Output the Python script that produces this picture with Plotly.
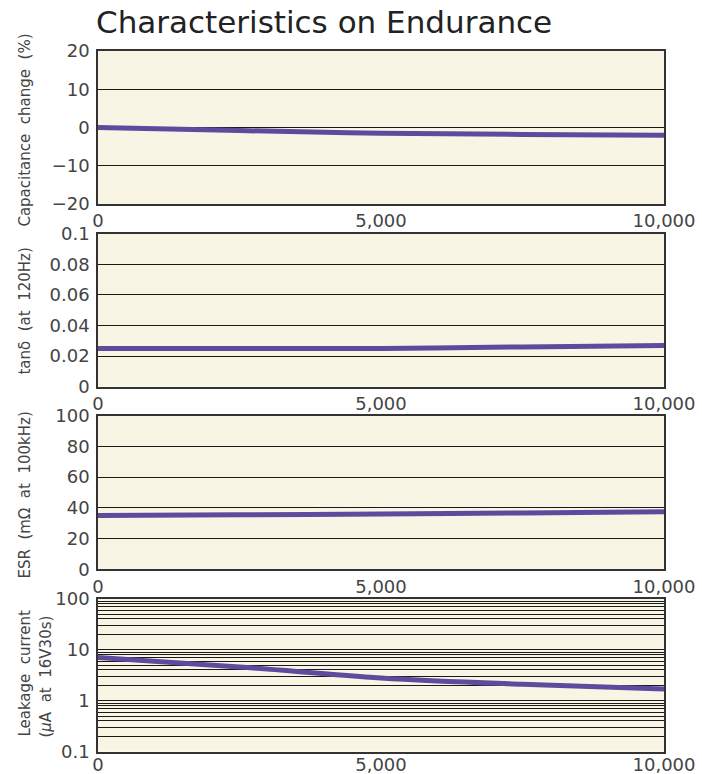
import plotly.graph_objects as go
from plotly.subplots import make_subplots

# ---- data ----
hours = [0, 2500, 5000, 7500, 10000]
cap_change = [0.0, -0.8, -1.5, -1.8, -2.0]
tan_delta = [0.025, 0.025, 0.025, 0.026, 0.027]
esr = [35.0, 35.5, 36.0, 36.7, 37.5]
leakage = [7.0, 4.6, 2.8, 2.1, 1.7]

x_ticks = [0, 5000, 10000]
x_ticktext = ["0", "5,000", "10,000"]

W, H = 702, 774
L, R = 97.5, 664
FONT = "DejaVu Sans, sans-serif"
TXT = "#444444"
LINE = "#5f4a9e"
BG = "#f9f5e5"

panels_px = [(51, 204), (233.7, 386.7), (415.7, 569.3), (598.7, 751.7)]

fig = make_subplots(rows=4, cols=1)

series = [cap_change, tan_delta, esr, leakage]
for i, s in enumerate(series):
    fig.add_trace(go.Scatter(x=hours, y=s, mode="lines", line=dict(color=LINE, width=5, shape="spline"),
                             showlegend=False, hoverinfo="skip"), row=i + 1, col=1)

def ydom(top, bot):
    return [1 - bot / H, 1 - top / H]

log_vals = []
log_text = []
for dec in [0.1, 1, 10]:
    for m in range(1, 10):
        v = round(dec * m, 6)
        log_vals.append(v)
        log_text.append(("%g" % v) if m == 1 else "")
log_vals.append(100)
log_text.append("100")

yaxes_cfg = [
    dict(range=[-20, 20], tickvals=[-20, -10, 0, 10, 20], ticktext=["\u221220", "\u221210", "0", "10", "20"]),
    dict(range=[0, 0.1], tickvals=[0, 0.02, 0.04, 0.06, 0.08, 0.1], ticktext=["0", "0.02", "0.04", "0.06", "0.08", "0.1"]),
    dict(range=[0, 100], tickvals=[0, 20, 40, 60, 80, 100], ticktext=["0", "20", "40", "60", "80", "100"]),
    dict(type="log", range=[-1, 2], tickvals=log_vals, ticktext=log_text),
]

layout = dict(
    width=W, height=H,
    margin=dict(l=L, r=W - R, t=0, b=0),
    paper_bgcolor="white",
    plot_bgcolor=BG,
    font=dict(family=FONT, color=TXT, size=18),
)

for i in range(4):
    top, bot = panels_px[i]
    xa = "xaxis" if i == 0 else "xaxis%d" % (i + 1)
    ya = "yaxis" if i == 0 else "yaxis%d" % (i + 1)
    layout[xa] = dict(domain=[0, 1], range=[0, 10000], tickvals=x_ticks, ticktext=x_ticktext,
                      showgrid=False, zeroline=False, showline=True, mirror=True, linecolor="#333333",
                      linewidth=1.5, ticks="outside", ticklen=0, tickcolor="rgba(0,0,0,0)",
                      tickfont=dict(size=18), automargin=False,
                      ticklabelstandoff=(-4 if i == 3 else 0))
    cfg = yaxes_cfg[i]
    layout[ya] = dict(domain=ydom(top, bot), showgrid=True, gridcolor="#1a1a1a", gridwidth=1.3,
                      zeroline=False, showline=True, mirror=True, linecolor="#333333", linewidth=1.5,
                      ticks="outside", ticklen=3, tickcolor="rgba(0,0,0,0)",
                      tickfont=dict(size=18), automargin=False, **cfg)

fig.update_layout(**layout)

def xp(px):
    return (px - L) / (R - L)

def yp(px):
    return 1 - px / H

# title as annotation
fig.add_annotation(text="Characteristics on Endurance", x=xp(93), y=yp(22), xref="paper", yref="paper",
                   showarrow=False, xanchor="left", yanchor="middle",
                   font=dict(size=31, color="#222222", family=FONT))

ann = [
    ("Capacitance\u00a0\u00a0change\u00a0\u00a0(%)", 24, 130),
    ("tan\u03b4\u00a0\u00a0(at\u00a0\u00a0120Hz)", 24, 311),
    ("ESR\u00a0\u00a0(m\u03a9\u00a0\u00a0at\u00a0\u00a0100kHz)", 24, 495),
    ("Leakage\u00a0\u00a0current", 24, 673),
    ("(<i>\u03bc</i>A\u00a0\u00a0at\u00a0\u00a016V30s)", 45, 677),
]
for text, x, y in ann:
    fig.add_annotation(text=text, x=xp(x), y=yp(y), xref="paper", yref="paper", textangle=-90,
                       showarrow=False, xanchor="center", yanchor="middle",
                       font=dict(size=15, color=TXT, family=FONT))

fig.write_html("out.html", config={"displayModeBar": False},
               post_script="document.body.style.margin='0px';document.body.style.overflow='hidden';")
